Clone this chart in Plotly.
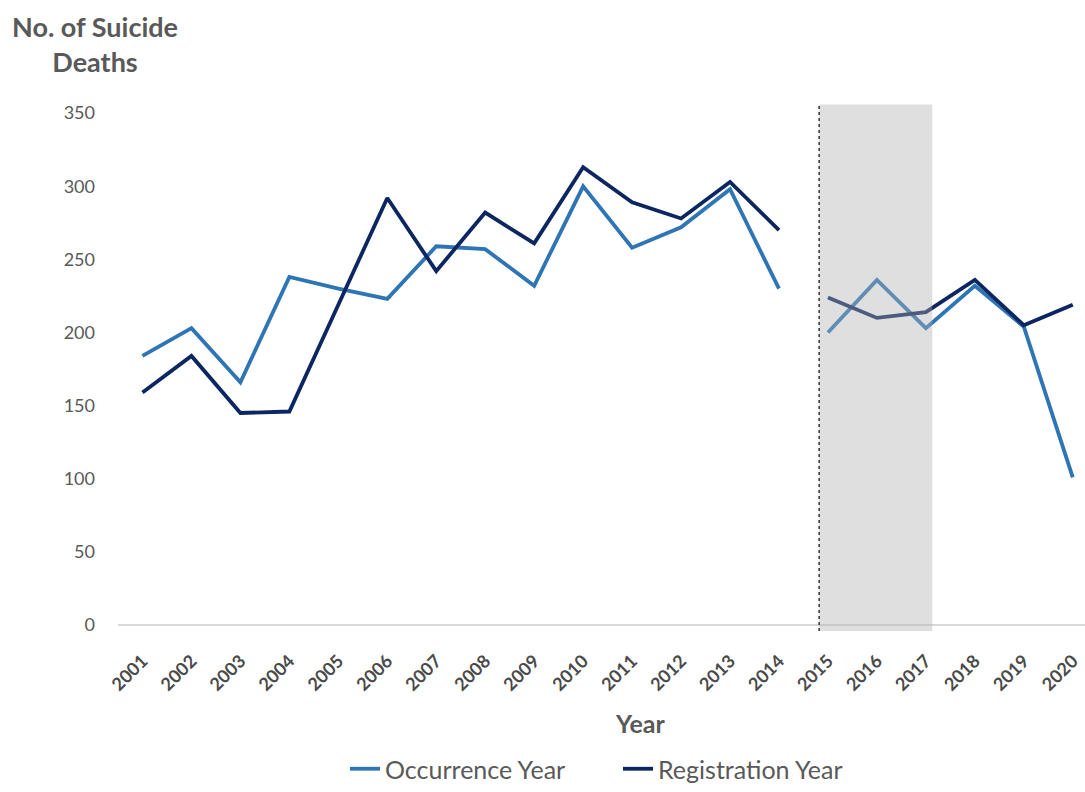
import plotly.graph_objects as go

years = list(range(2001, 2021))
occurrence = [184, 203, 166, 238, 230, 223, 259, 257, 232, 300, 258, 272, 298, 230,
              200, 236, 203, 232, 204, 101]
registration = [159, 184, 145, 146, 219, 292, 242, 282, 261, 313, 289, 278, 303, 270,
                224, 210, 214, 236, 205, 219]
split_year = 2015          # data series are drawn as two separate pieces around this year
shade_start, shade_end = 2014.82, 2017.13

C_OCC = "#2e75b6"
C_REG = "#0b2660"
TXT = "#595959"
FONT = "Lato"

fig = go.Figure()
i = years.index(split_year)
for name, vals, col in [("Occurrence Year", occurrence, C_OCC),
                        ("Registration Year", registration, C_REG)]:
    fig.add_trace(go.Scatter(x=years[:i], y=vals[:i], mode="lines", name=name,
                             line=dict(color=col, width=3.8), legendgroup=name))
    fig.add_trace(go.Scatter(x=years[i:], y=vals[i:], mode="lines", name=name,
                             line=dict(color=col, width=3.8), legendgroup=name,
                             showlegend=False))

# shaded period (drawn above, translucent so lines look faded inside)
fig.add_shape(type="rect", xref="x", yref="y", x0=shade_start, x1=shade_end,
              y0=-4, y1=356, fillcolor="rgba(175,175,175,0.40)", line_width=0,
              layer="above")
fig.add_shape(type="line", xref="x", yref="y", x0=shade_start, x1=shade_start,
              y0=-4, y1=356, line=dict(color="#333333", width=1.5, dash="dot"),
              layer="above")

fig.update_layout(
    width=1085, height=792,
    margin=dict(l=118, r=0, t=100, b=152),
    paper_bgcolor="white", plot_bgcolor="white",
    font=dict(family=FONT, color=TXT),
    showlegend=True,
    legend=dict(orientation="h", x=(345 - 118) / 967, xanchor="left", y=-0.244,
                yanchor="middle", font=dict(size=25, color=TXT, family=FONT),
                traceorder="normal", entrywidth=228, entrywidthmode="pixels",
                tracegroupgap=0),
    xaxis=dict(range=[2000.5, 2020.25], tickmode="array", tickvals=years,
               ticktext=[f"<b>{y}</b>" for y in years], tickangle=-45,
               tickfont=dict(size=18, color="#4a4a4a", family=FONT),
               showgrid=False, showline=False, zeroline=False, ticks="",
               ticklabelstandoff=8),
    yaxis=dict(range=[-8.86, 359], tickvals=[0, 50, 100, 150, 200, 250, 300, 350],
               tickfont=dict(size=18, color=TXT, family=FONT), showgrid=False,
               zeroline=True, zerolinecolor="#d9d9d9", zerolinewidth=1.5,
               showline=False, ticks="", ticklabelstandoff=22),
)

fig.add_annotation(text="<b>No. of Suicide<br>Deaths</b>", xref="paper", yref="paper",
                   x=(95 - 118) / 967, y=1 + (100 - 44) / 540, xanchor="center",
                   yanchor="middle", showarrow=False, align="center",
                   font=dict(size=27, color=TXT, family=FONT))
fig.add_annotation(text="<b>Year</b>", xref="paper", yref="paper",
                   x=(640 - 118) / 967, y=-(725 - 640) / 540, xanchor="center",
                   yanchor="middle", showarrow=False,
                   font=dict(size=25, color=TXT, family=FONT))

fig.write_html("out.html")
